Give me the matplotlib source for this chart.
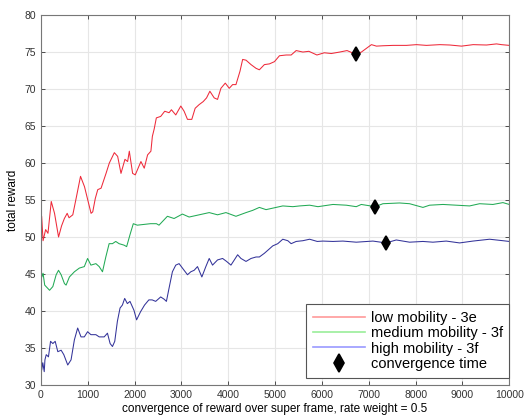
import matplotlib
matplotlib.use("Agg")
import matplotlib.pyplot as plt
from matplotlib.lines import Line2D

plt.rcParams['font.family'] = ['Liberation Sans', 'DejaVu Sans']

# ── DATA ──────────────────────────────────────────────────────────────────────
low_x = [0, 15, 45, 100, 150, 220, 290, 376, 440, 500, 560, 600, 680, 760, 845,
         930, 1000, 1070, 1106, 1160, 1213, 1284, 1390, 1460, 1567, 1638, 1709,
         1794, 1851, 1887, 1957, 2014, 2135, 2206, 2277, 2348, 2379, 2418, 2464,
         2557, 2643, 2736, 2786, 2879, 2986, 3057, 3129, 3221, 3293, 3379, 3464,
         3536, 3607, 3700, 3771, 3843, 3936, 4021, 4093, 4164, 4250, 4307, 4379,
         4486, 4593, 4664, 4771, 4879, 4986, 5093, 5236, 5343, 5450, 5593, 5721,
         5893, 6050, 6200, 6380, 6536, 6722, 6843, 6950, 7057, 7164, 7306, 7520,
         7805, 8019, 8232, 8517, 8731, 8980, 9229, 9514, 9728, 9835, 10000]
low_y = [46.5, 52.8, 49.5, 51.0, 50.5, 54.8, 53.2, 50.0, 51.5, 52.5, 53.2, 52.6,
         53.0, 55.5, 58.2, 56.8, 55.0, 53.2, 53.4, 55.2, 56.4, 56.6, 58.6, 60.0,
         61.4, 60.9, 58.6, 60.5, 60.2, 61.6, 58.6, 58.4, 60.2, 59.3, 61.1, 61.6,
         63.6, 64.6, 66.1, 66.3, 67.0, 66.8, 67.2, 66.5, 67.7, 67.0, 65.9, 65.9,
         67.4, 67.9, 68.3, 68.8, 69.7, 68.8, 68.6, 70.1, 70.8, 70.1, 70.6, 70.6,
         72.4, 74.0, 73.9, 73.3, 72.8, 72.6, 73.3, 73.4, 73.7, 74.5, 74.6, 74.6,
         75.2, 75.0, 75.1, 74.6, 74.9, 74.8, 75.0, 75.2, 74.7, 75.0, 75.5, 76.0,
         75.8, 75.85, 75.9, 75.9, 76.0, 75.9, 76.0, 75.95, 75.8, 76.0, 75.95,
         76.1, 76.0, 75.9]

med_x = [0, 20, 45, 80, 184, 254, 325, 375, 431, 502, 537, 608, 714, 820, 926,
         996, 1067, 1173, 1244, 1314, 1385, 1456, 1527, 1597, 1668, 1774, 1830,
         1901, 1972, 2057, 2198, 2339, 2466, 2521, 2700, 2843, 3021, 3164, 3379,
         3593, 3771, 3950, 4164, 4379, 4521, 4664, 4807, 5021, 5164, 5379, 5523,
         5737, 5915, 6235, 6520, 6733, 6840, 7139, 7302, 7658, 7872, 8157, 8299,
         8584, 8868, 9153, 9367, 9651, 9865, 10000]
med_y = [46.0, 44.6, 45.1, 43.5, 42.8, 43.3, 44.9, 45.5, 44.9, 43.7, 43.5, 44.6,
         45.3, 45.8, 46.0, 47.1, 46.2, 46.4, 46.0, 45.3, 47.3, 49.1, 49.1, 49.4,
         49.1, 48.9, 48.7, 50.3, 51.8, 51.6, 51.7, 51.8, 51.8, 51.6, 52.8, 52.5,
         53.1, 52.7, 53.0, 53.3, 53.0, 53.3, 52.8, 53.3, 53.6, 54.0, 53.7, 54.0,
         54.2, 54.1, 54.2, 54.3, 54.1, 54.4, 54.3, 54.1, 54.4, 54.1, 54.5, 54.6,
         54.5, 54.0, 54.3, 54.4, 54.3, 54.2, 54.5, 54.4, 54.65, 54.4]

high_x = [0, 15, 40, 70, 85, 113, 160, 205, 254, 304, 360, 431, 488, 572, 643,
          714, 784, 855, 926, 996, 1067, 1173, 1244, 1350, 1420, 1477, 1527, 1576,
          1632, 1689, 1739, 1788, 1845, 1901, 1986, 2042, 2127, 2212, 2304, 2375,
          2450, 2557, 2629, 2679, 2736, 2807, 2879, 2950, 3021, 3129, 3200, 3271,
          3343, 3436, 3521, 3593, 3664, 3771, 3879, 3964, 4057, 4129, 4200, 4271,
          4379, 4486, 4593, 4664, 4771, 4843, 4950, 5057, 5164, 5271, 5343, 5450,
          5593, 5737, 5900, 6021, 6235, 6448, 6733, 7089, 7367, 7587, 7872, 8157,
          8370, 8655, 8940, 9224, 9580, 9865, 10000]
high_y = [49.0, 32.0, 33.0, 31.8, 33.4, 34.1, 33.8, 35.9, 35.6, 35.9, 34.5, 34.7,
          34.1, 32.7, 33.4, 36.1, 37.7, 36.5, 36.5, 37.2, 36.8, 36.8, 36.5, 36.5,
          37.0, 35.6, 35.2, 35.9, 38.6, 40.4, 40.8, 41.7, 41.0, 41.3, 40.1, 38.8,
          39.9, 40.8, 41.5, 41.5, 41.3, 41.9, 41.6, 41.3, 43.1, 45.3, 46.2, 46.4,
          45.8, 44.9, 45.3, 45.5, 46.0, 44.6, 46.0, 47.1, 46.2, 46.9, 47.1, 46.7,
          46.2, 46.9, 47.6, 47.1, 46.7, 47.1, 47.3, 47.3, 47.8, 48.2, 48.8, 49.1,
          49.7, 49.5, 49.1, 49.4, 49.5, 49.7, 49.4, 49.45, 49.4, 49.45, 49.3, 49.45,
          49.2, 49.6, 49.3, 49.4, 49.3, 49.45, 49.2, 49.45, 49.7, 49.5, 49.4]

conv_x = [6720, 7140, 7370]
conv_y = [74.7, 54.1, 49.2]

labels = ["low mobility - 3e", "medium mobility - 3f", "high mobility - 3f",
          "convergence time"]

# ── PLOT ──────────────────────────────────────────────────────────────────────
fig = plt.figure(figsize=(5.25, 4.18), dpi=100)
ax = fig.add_axes([0.078, 0.079, 0.892, 0.885])

ax.plot(low_x, low_y, color="#ee2a3a", lw=0.75)
ax.plot(med_x, med_y, color="#22aa55", lw=0.75)
ax.plot(high_x, high_y, color="#333399", lw=0.75)
ax.plot(conv_x, conv_y, linestyle="none", marker="d", markersize=7.5,
        markeredgewidth=1.2, color="black")

ax.set_xlim(0, 10000)
ax.set_ylim(30, 80)
ax.set_xticks(range(0, 10001, 1000))
ax.set_yticks(range(30, 81, 5))
ax.grid(True, color="#e6e6e6", lw=0.8)
ax.set_axisbelow(True)
ax.tick_params(direction="in", top=True, right=True, labelsize=7.5,
               colors="#333333", length=3, width=0.6)
for sp in ax.spines.values():
    sp.set_color("#777777")
    sp.set_linewidth(0.8)

ax.set_xlabel("convergence of reward over super frame, rate weight = 0.5",
              fontsize=8.5, labelpad=2)
ax.set_ylabel("total reward", fontsize=8.5, labelpad=4)

handles = [Line2D([], [], color="#ff9a9a", lw=1.2),
           Line2D([], [], color="#99ee99", lw=1.2),
           Line2D([], [], color="#9a9aff", lw=1.2),
           Line2D([], [], linestyle="none", marker="d", markersize=9,
                  markeredgewidth=1.2, color="black")]
leg = ax.legend(handles, labels, loc="lower right", fontsize=10.5,
                bbox_to_anchor=(1.0, 0.02), borderaxespad=0,
                fancybox=False, framealpha=1, edgecolor="#555555",
                handlelength=3.6, handletextpad=0.35, labelspacing=0.1,
                borderpad=0.45)
leg.get_frame().set_linewidth(0.8)

fig.savefig("out.png", dpi=100)
